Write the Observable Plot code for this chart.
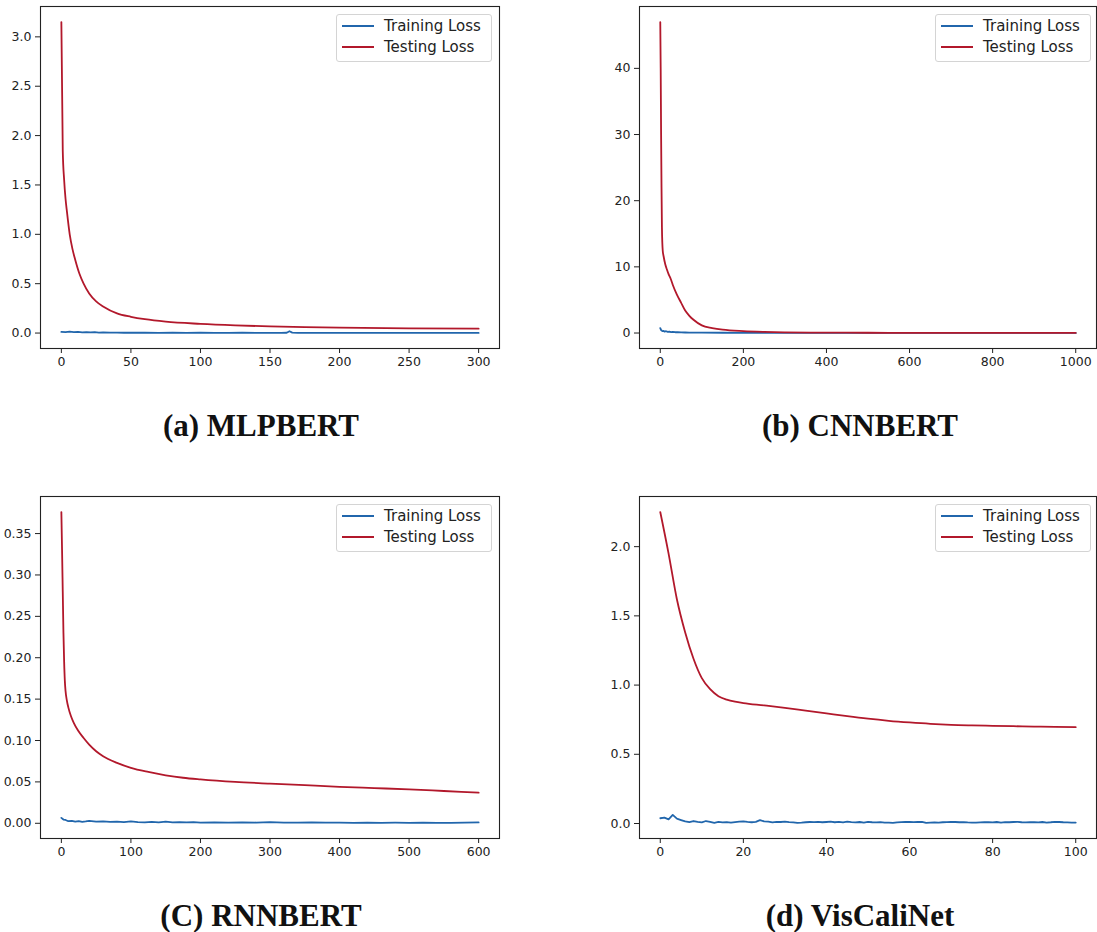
<!DOCTYPE html>
<html>
<head>
<meta charset="utf-8">
<script src="https://cdn.jsdelivr.net/npm/d3@7"></script>
<script src="https://cdn.jsdelivr.net/npm/@observablehq/plot@0.6"></script>
<style>
  html, body { margin: 0; padding: 0; background: #fff; }
  #root { position: relative; width: 1097px; height: 932px; overflow: hidden; background: #fff; }
  .panel { position: absolute; }
  .legend { position: absolute; box-sizing: border-box; border: 1px solid #d4d4d4; border-radius: 3px;
            background: rgba(255,255,255,0.85); font-family: "DejaVu Sans"; font-size: 15px; color: #222; }
  .legend .row { position: absolute; left: 0; height: 20px; width: 100%; }
  .legend .sw { position: absolute; left: 5px; top: 10px; width: 32px; height: 0; border-top: 2px solid; margin-top: -1px; }
  .legend .lb { position: absolute; left: 47px; top: 0; line-height: 20px; white-space: nowrap; }
  .caption { position: absolute; width: 400px; height: 32px; text-align: center; font-family: "Liberation Serif", "DejaVu Serif", serif;
             font-weight: bold; font-size: 31px; color: #111; line-height: 32px; }
</style>
</head>
<body>
<div id="root"></div>
<script>
// ---------------- Data ----------------
const seriesNames = ["Training Loss", "Testing Loss"];
const seriesColors = ["#2166ac", "#b2182b"];
const captions = ["(a) MLPBERT", "(b) CNNBERT", "(C) RNNBERT", "(d) VisCaliNet"];

// (a) MLPBERT
const testEpochsA = [0, 1, 2, 3, 4, 6, 8, 10, 13, 16, 20, 25, 30, 40, 50, 60, 75, 100, 125, 150, 175, 200, 250, 300];
const testLossA   = [3.15, 1.85, 1.55, 1.36, 1.23, 1.0, 0.85, 0.74, 0.60, 0.50, 0.40, 0.32, 0.27, 0.20, 0.165, 0.14, 0.115, 0.093, 0.078, 0.067, 0.060, 0.055, 0.048, 0.044];
const trainEpochsA = [0, 3, 6, 9, 12, 15, 18, 21, 24, 27, 30, 35, 40, 45, 50, 55, 60, 70, 80, 90, 100, 110, 120, 130, 140, 150, 158, 162, 164, 166, 170, 180, 190, 200, 210, 220, 230, 240, 250, 260, 270, 280, 290, 300];
const trainLossA   = [0.012, 0.010, 0.014, 0.009, 0.012, 0.007, 0.010, 0.006, 0.009, 0.005, 0.007, 0.004, 0.005, 0.003, 0.004, 0.003, 0.004, 0.002, 0.003, 0.002, 0.003, 0.002, 0.002, 0.003, 0.002, 0.002, 0.002, 0.003, 0.018, 0.004, 0.002, 0.002, 0.001, 0.002, 0.001, 0.002, 0.001, 0.001, 0.002, 0.001, 0.001, 0.001, 0.001, 0.001];

// (b) CNNBERT
const testEpochsB = [0, 1, 2, 3, 4, 5, 6, 8, 12, 16, 20, 25, 30, 40, 50, 60, 70, 80, 100, 125, 150, 200, 250, 300, 400, 500, 600, 800, 1000];
const testLossB   = [47.0, 40.0, 30.0, 22.0, 16.0, 13.5, 12.4, 11.6, 10.4, 9.6, 8.9, 8.2, 7.3, 5.8, 4.6, 3.4, 2.6, 2.0, 1.15, 0.75, 0.5, 0.28, 0.17, 0.11, 0.06, 0.04, 0.03, 0.02, 0.015];
const trainEpochsB = [0, 2, 4, 6, 8, 10, 14, 18, 22, 26, 30, 36, 42, 50, 60, 70, 80, 100, 150, 200, 300, 400, 500, 600, 700, 800, 900, 1000];
const trainLossB   = [0.75, 0.45, 0.35, 0.28, 0.32, 0.22, 0.27, 0.18, 0.22, 0.15, 0.18, 0.12, 0.14, 0.09, 0.08, 0.07, 0.06, 0.05, 0.04, 0.03, 0.02, 0.02, 0.015, 0.012, 0.01, 0.01, 0.01, 0.01];

// (C) RNNBERT
const testEpochsC = [0, 1, 2, 3, 4, 5, 6, 8, 10, 14, 18, 24, 32, 40, 50, 60, 80, 100, 125, 150, 175, 200, 250, 300, 350, 400, 450, 500, 550, 600];
const testLossC   = [0.376, 0.33, 0.28, 0.23, 0.195, 0.172, 0.160, 0.148, 0.140, 0.129, 0.121, 0.112, 0.103, 0.095, 0.087, 0.081, 0.073, 0.067, 0.062, 0.058, 0.055, 0.053, 0.050, 0.048, 0.046, 0.044, 0.0425, 0.041, 0.039, 0.037];
const trainEpochsC = [0, 3, 6, 10, 15, 20, 25, 30, 35, 40, 50, 60, 70, 80, 90, 100, 110, 120, 130, 140, 150, 160, 170, 180, 190, 200, 220, 240, 260, 280, 300, 320, 340, 360, 380, 400, 420, 440, 460, 480, 500, 520, 540, 560, 580, 600];
const trainLossC   = [0.0065, 0.0045, 0.0040, 0.0025, 0.0030, 0.0020, 0.0025, 0.0018, 0.0022, 0.0030, 0.0020, 0.0024, 0.0016, 0.0019, 0.0013, 0.0022, 0.0015, 0.0012, 0.0018, 0.0010, 0.0020, 0.0012, 0.0015, 0.0010, 0.0013, 0.0009, 0.0012, 0.0008, 0.0011, 0.0009, 0.0013, 0.0007, 0.0009, 0.0010, 0.0007, 0.0009, 0.0006, 0.0008, 0.0006, 0.0007, 0.0005, 0.0007, 0.0005, 0.0004, 0.0007, 0.0010];

// (d) VisCaliNet
const testEpochsD = [0, 2, 4, 6, 8, 10, 12, 14, 16, 18, 20, 25, 30, 35, 40, 45, 50, 55, 60, 65, 70, 75, 80, 85, 90, 95, 100];
const testLossD   = [2.25, 1.95, 1.62, 1.38, 1.19, 1.05, 0.97, 0.92, 0.895, 0.88, 0.87, 0.853, 0.835, 0.815, 0.795, 0.775, 0.757, 0.742, 0.730, 0.720, 0.713, 0.709, 0.706, 0.703, 0.700, 0.698, 0.696];
const trainLossD = [0.038, 0.042, 0.030, 0.062, 0.035, 0.025, 0.015, 0.010, 0.018, 0.012, 0.008, 0.018, 0.012, 0.005, 0.012, 0.008, 0.010, 0.006, 0.010, 0.013,
                    0.016, 0.012, 0.009, 0.012, 0.024, 0.015, 0.013, 0.008, 0.012, 0.011, 0.014, 0.010, 0.008, 0.004, 0.006, 0.009, 0.011, 0.010, 0.012, 0.009,
                    0.011, 0.013, 0.009, 0.012, 0.008, 0.013, 0.010, 0.008, 0.011, 0.007, 0.012, 0.009, 0.008, 0.010, 0.007, 0.006, 0.005, 0.008, 0.010, 0.011,
                    0.012, 0.010, 0.012, 0.011, 0.004, 0.006, 0.008, 0.007, 0.009, 0.010, 0.012, 0.011, 0.009, 0.010, 0.008, 0.007, 0.006, 0.008, 0.009, 0.010,
                    0.008, 0.011, 0.007, 0.010, 0.009, 0.011, 0.012, 0.009, 0.008, 0.010, 0.009, 0.008, 0.011, 0.007, 0.009, 0.012, 0.011, 0.009, 0.008, 0.007, 0.007];
const trainEpochsD = trainLossD.map((_, i) => i);

// Tick values and labels
const xTicksA = [0, 50, 100, 150, 200, 250, 300];
const xTicksB = [0, 200, 400, 600, 800, 1000];
const xTicksC = [0, 100, 200, 300, 400, 500, 600];
const xTicksD = [0, 20, 40, 60, 80, 100];
const yTicksA = [0, 0.5, 1.0, 1.5, 2.0, 2.5, 3.0];
const yLabelsA = ["0.0", "0.5", "1.0", "1.5", "2.0", "2.5", "3.0"];
const yTicksB = [0, 10, 20, 30, 40];
const yLabelsB = ["0", "10", "20", "30", "40"];
const yTicksC = [0, 0.05, 0.10, 0.15, 0.20, 0.25, 0.30, 0.35];
const yLabelsC = ["0.00", "0.05", "0.10", "0.15", "0.20", "0.25", "0.30", "0.35"];
const yTicksD = [0, 0.5, 1.0, 1.5, 2.0];
const yLabelsD = ["0.0", "0.5", "1.0", "1.5", "2.0"];

// ---------------- Drawing ----------------
const root = document.getElementById("root");

function pad(ext) { const r = ext[1] - ext[0]; return [ext[0] - 0.05 * r, ext[1] + 0.05 * r]; }

function panel(cfg) {
  const train = cfg.trainX.map((x, i) => ({x, y: cfg.trainY[i]}));
  const test = cfg.testX.map((x, i) => ({x, y: cfg.testY[i]}));
  const all = train.concat(test);
  const xd = pad(d3.extent(all, d => d.x));
  const yd = pad(d3.extent(all, d => d.y));
  const yLab = new Map(cfg.yTicks.map((t, i) => [t, cfg.yLabels[i]]));
  const svg = Plot.plot({
    width: cfg.width, height: 380,
    marginLeft: 40, marginRight: cfg.width - 40 - cfg.plotW, marginTop: 6, marginBottom: 32,
    style: {fontFamily: "DejaVu Sans", fontSize: "12.5px", color: "#222", background: "transparent", overflow: "visible"},
    x: {domain: xd},
    y: {domain: yd},
    marks: [
      Plot.axisX({ticks: cfg.xTicks, tickFormat: d => String(d), tickSize: 5, tickPadding: 4, label: null, stroke: "#222", fontSize: 12.5}),
      Plot.axisY({ticks: cfg.yTicks, tickFormat: d => yLab.get(d), tickSize: 5, tickPadding: 4, label: null, stroke: "#222", fontSize: 12.5}),
      Plot.line(train, {x: "x", y: "y", stroke: seriesColors[0], strokeWidth: 1.8}),
      Plot.line(test, {x: "x", y: "y", stroke: seriesColors[1], strokeWidth: 1.8, curve: "monotone-x"}),
      Plot.frame({stroke: "#222", strokeWidth: 1.1})
    ]
  });
  const wrap = document.createElement("div");
  wrap.className = "panel";
  wrap.style.left = cfg.left + "px";
  wrap.style.top = cfg.top + "px";
  wrap.appendChild(svg);
  root.appendChild(wrap);

  // legend
  const lg = document.createElement("div");
  lg.className = "legend";
  lg.style.left = cfg.legendLeft + "px";
  lg.style.top = (cfg.top + 14) + "px";
  lg.style.width = "156px";
  lg.style.height = "48px";
  seriesNames.forEach((name, i) => {
    const row = document.createElement("div");
    row.className = "row";
    row.style.top = (1 + i * 20.5) + "px";
    const sw = document.createElement("div");
    sw.className = "sw";
    sw.style.borderTopColor = seriesColors[i];
    const lb = document.createElement("div");
    lb.className = "lb";
    lb.textContent = name;
    row.appendChild(sw); row.appendChild(lb);
    lg.appendChild(row);
  });
  root.appendChild(lg);

  // caption
  const cap = document.createElement("div");
  cap.className = "caption";
  cap.textContent = cfg.caption;
  cap.style.left = (cfg.capCenter - 200) + "px";
  cap.style.top = (cfg.top + 410) + "px";
  root.appendChild(cap);
}

panel({left: 0, top: 0, width: 510, plotW: 459, trainX: trainEpochsA, trainY: trainLossA, testX: testEpochsA, testY: testLossA,
       xTicks: xTicksA, yTicks: yTicksA, yLabels: yLabelsA, legendLeft: 336, caption: captions[0], capCenter: 261});
panel({left: 599, top: 0, width: 498, plotW: 457, trainX: trainEpochsB, trainY: trainLossB, testX: testEpochsB, testY: testLossB,
       xTicks: xTicksB, yTicks: yTicksB, yLabels: yLabelsB, legendLeft: 935, caption: captions[1], capCenter: 860});
panel({left: 0, top: 490, width: 510, plotW: 459, trainX: trainEpochsC, trainY: trainLossC, testX: testEpochsC, testY: testLossC,
       xTicks: xTicksC, yTicks: yTicksC, yLabels: yLabelsC, legendLeft: 336, caption: captions[2], capCenter: 261});
panel({left: 599, top: 490, width: 498, plotW: 457, trainX: trainEpochsD, trainY: trainLossD, testX: testEpochsD, testY: testLossD,
       xTicks: xTicksD, yTicks: yTicksD, yLabels: yLabelsD, legendLeft: 935, caption: captions[3], capCenter: 860});
</script>
</body>
</html>
